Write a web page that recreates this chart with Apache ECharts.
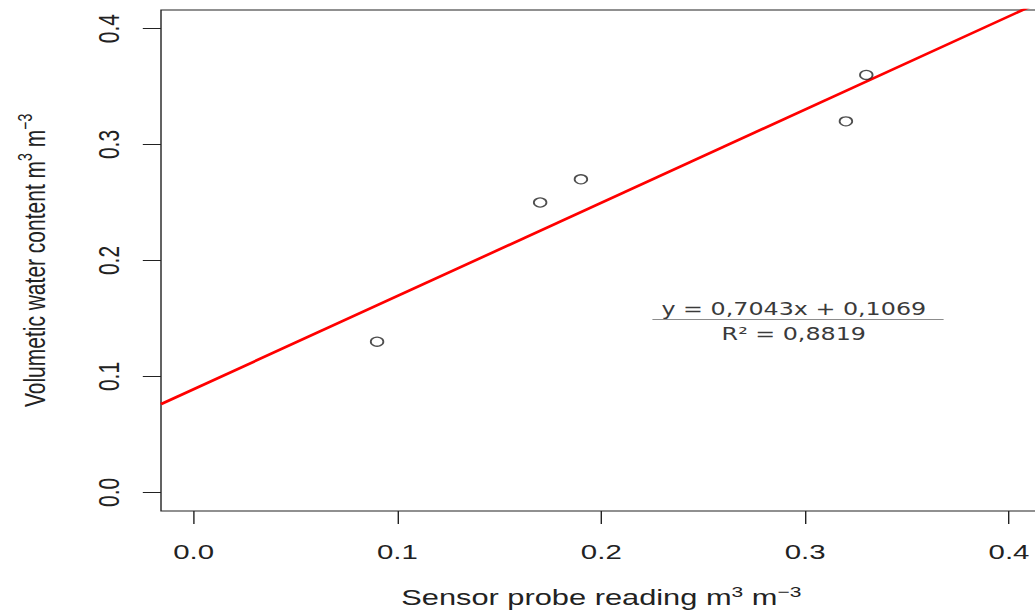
<!DOCTYPE html>
<html>
<head>
<meta charset="utf-8">
<script src="https://cdn.jsdelivr.net/npm/echarts@6/dist/echarts.min.js"></script>
<style>
  html, body { margin: 0; padding: 0; background: #fff; overflow: hidden; }
  /* The whole figure is drawn on a narrower canvas and widened horizontally. */
  #chart { width: 746px; height: 615px; transform: scaleX(1.4); transform-origin: 0 0; }
</style>
</head>
<body>
<div id="chart"></div>
<script>
// Observations: sensor probe reading vs. volumetric water content (m3 m-3)
const sensorReading = [0.09, 0.17, 0.19, 0.32, 0.33];
const waterContent  = [0.13, 0.25, 0.27, 0.32, 0.36];

// Tick positions on both axes
const xTicks = [0, 0.1, 0.2, 0.3, 0.4];
const yTicks = [0, 0.1, 0.2, 0.3, 0.4];

// Axis ranges (data range padded 4% on each side)
const xRange = [-0.016, 0.416];
const yRange = [-0.016, 0.416];

// Fitted regression line (least squares of water content on probe reading)
const fitIntercept = 0.089;
const fitSlope = 0.804;

// Trendline annotation
const equationText = 'y = 0,7043x + 0,1069';
const r2Text = 'R\u00B2 = 0,8819';

const points = sensorReading.map((x, i) => [x, waterContent[i]]);
const fitLine = xRange.map(x => [x, fitIntercept + fitSlope * x]);

const chart = echarts.init(document.getElementById('chart'), null, { renderer: 'svg' });

const textColor = '#222';
const font = 'Liberation Sans, Arial, sans-serif';
const noteFont = 'DejaVu Sans, sans-serif';
const xTitleRich = {
  a: { fontSize: 22, lineHeight: 25, verticalAlign: 'bottom', color: textColor, fontFamily: font },
  s: { fontSize: 15, lineHeight: 15, verticalAlign: 'top', color: textColor, fontFamily: font }
};
const yTitleRich = {
  a: { fontSize: 21, lineHeight: 24, verticalAlign: 'bottom', color: textColor, fontFamily: font },
  s: { fontSize: 14, lineHeight: 14, verticalAlign: 'top', color: textColor, fontFamily: font }
};

chart.setOption({
  animation: false,
  grid: {
    left: 115, top: 10, width: 629, height: 501,
    show: true, borderColor: '#222', borderWidth: 1, backgroundColor: 'transparent'
  },
  xAxis: {
    type: 'value',
    min: xRange[0], max: xRange[1],
    axisLine: { show: false, onZero: false },
    splitLine: { show: false },
    axisTick: { show: true, inside: false, customValues: xTicks, length: 13, lineStyle: { color: '#222', width: 1 } },
    axisLabel: {
      customValues: xTicks, margin: 30,
      formatter: v => v.toFixed(1),
      fontSize: 21, color: textColor, fontFamily: font
    },
    name: '{a|Sensor probe reading m}{s|3}{a| m}{s|\u22123}',
    nameLocation: 'middle', nameGap: 73,
    nameTextStyle: { rich: xTitleRich }
  },
  yAxis: {
    type: 'value',
    min: yRange[0], max: yRange[1],
    axisLine: { show: false, onZero: false },
    splitLine: { show: false },
    axisTick: { show: true, inside: false, customValues: yTicks, length: 13, lineStyle: { color: '#222', width: 1 } },
    axisLabel: {
      customValues: yTicks, margin: 27, rotate: 90,
      formatter: v => v.toFixed(1),
      fontSize: 21, color: textColor, fontFamily: font
    },
    name: '{a|Volumetic water content m}{s|3}{a| m}{s|\u22123}',
    nameLocation: 'middle', nameGap: 80,
    nameTextStyle: { rich: yTitleRich }
  },
  series: [
    {
      type: 'line',
      data: fitLine,
      showSymbol: false,
      clip: true,
      lineStyle: { color: '#ff0000', width: 2.5 },
      z: 2
    },
    {
      type: 'scatter',
      data: points,
      symbol: 'circle',
      symbolSize: 9,
      itemStyle: { color: 'rgba(255,255,255,0)', borderColor: '#222', borderWidth: 1.3 },
      z: 3
    }
  ],
  graphic: [
    {
      type: 'text',
      style: {
        text: equationText, x: 567, y: 309, align: 'center', verticalAlign: 'middle',
        fontSize: 17, fontFamily: noteFont, fill: '#3a3a3a'
      }
    },
    {
      type: 'line',
      shape: { x1: 466, y1: 319.5, x2: 674, y2: 319.5 },
      style: { stroke: '#8c8c8c', lineWidth: 1 }
    },
    {
      type: 'text',
      style: {
        text: r2Text, x: 567, y: 334, align: 'center', verticalAlign: 'middle',
        fontSize: 17, fontFamily: noteFont, fill: '#3a3a3a'
      }
    }
  ]
});
</script>
</body>
</html>
